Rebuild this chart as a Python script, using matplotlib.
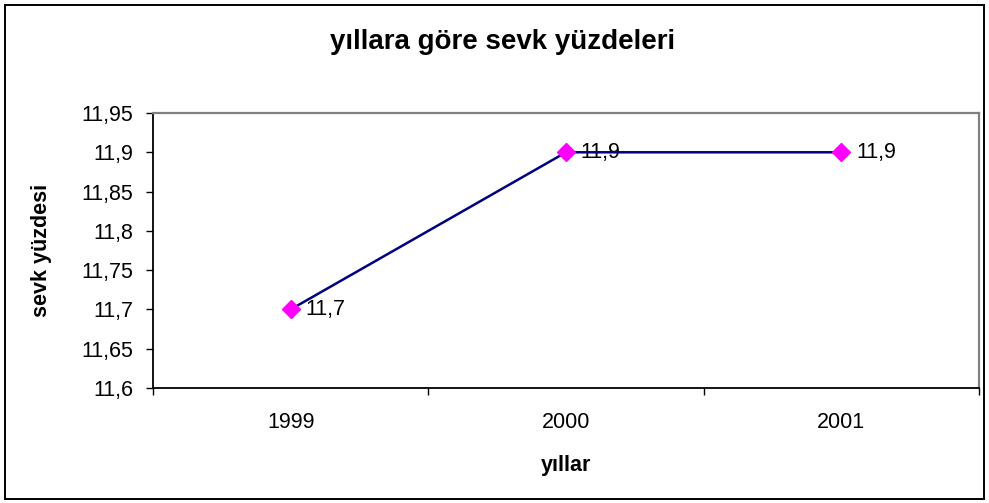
import matplotlib
matplotlib.use("Agg")
import matplotlib.pyplot as plt
from matplotlib.patches import Rectangle

years = ["1999", "2000", "2001"]
values = [11.7, 11.9, 11.9]
yticks = [11.6, 11.65, 11.7, 11.75, 11.8, 11.85, 11.9, 11.95]

def fmt(v):
    s = ("%.2f" % v).rstrip("0").rstrip(".")
    return s.replace(".", ",")

plt.rcParams['font.family'] = ['Liberation Sans', 'DejaVu Sans']
FS = 15.5

W, H = 989, 503
fig = plt.figure(figsize=(W / 100, H / 100), dpi=100)
fig.patches.append(Rectangle((5 / W, 4 / H), 979 / W, 494 / H, transform=fig.transFigure,
                             fill=False, edgecolor='black', linewidth=1.4))

left, right, top, bottom = 153, 979, 113, 388
ax = fig.add_axes([left / W, 1 - bottom / H, (right - left) / W, (bottom - top) / H])

x = list(range(len(years)))
ax.plot(x, values, color='#000080', linewidth=1.8, zorder=2)
ax.plot(x, values, linestyle='none', marker='D', markersize=9.5,
        markerfacecolor='#FF00FF', markeredgecolor='#FF00FF', zorder=3)
for xi, v in zip(x, values):
    ax.annotate(fmt(v), (xi, v), xytext=(10.5, 0), textcoords='offset points',
                ha='left', va='center', fontsize=FS, zorder=1)

ax.set_xlim(-0.5, len(years) - 0.5)
ax.set_ylim(yticks[0], yticks[-1])
ax.set_yticks(yticks)
ax.set_yticklabels([fmt(v) for v in yticks], fontsize=FS)
ax.set_xticks([i - 0.5 for i in range(len(years) + 1)])
ax.set_xticklabels([])
ax.set_xticks(x, minor=True)
ax.set_xticklabels(years, minor=True, fontsize=FS)
ax.tick_params(axis='x', which='minor', length=0, pad=17)
ax.tick_params(axis='x', which='major', length=5, direction='out', width=1)
ax.tick_params(axis='y', length=5, direction='out', width=1, pad=9)

for s in ['top', 'right']:
    ax.spines[s].set_color('#808080')
    ax.spines[s].set_linewidth(1.6)
for s in ['left', 'bottom']:
    ax.spines[s].set_color('black')
    ax.spines[s].set_linewidth(1.3)

fig.text(503 / W, 1 - 42 / H, "yıllara göre sevk yüzdeleri", ha='center', va='center',
         fontsize=20, fontweight='bold')
fig.text(566 / W, 1 - 465 / H, "yıllar", ha='center', va='center',
         fontsize=FS, fontweight='bold')
fig.text(42 / W, 1 - 250 / H, "sevk yüzdesi", ha='center', va='center',
         fontsize=FS, fontweight='bold', rotation=90)

fig.savefig("out.png", dpi=100)
